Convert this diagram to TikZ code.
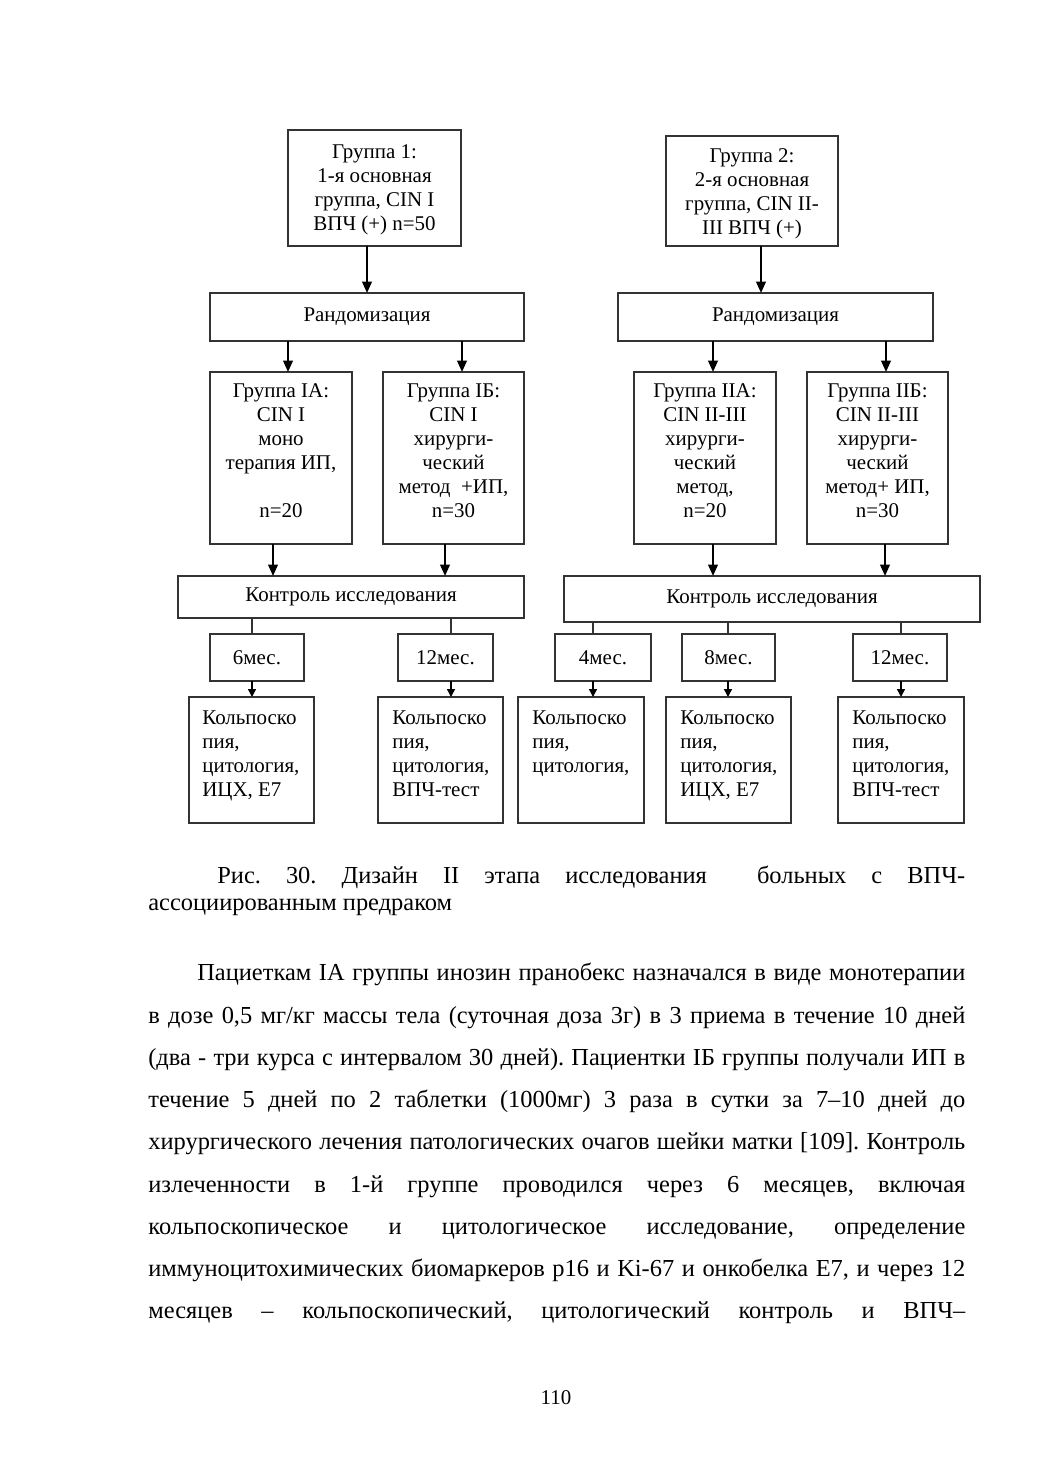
\documentclass[tikz,border=0pt]{standalone}
\usepackage{fontspec}
\setmainfont{Liberation Serif}
\usetikzlibrary{arrows.meta}
\frenchspacing
\newcommand\bxn[7]{\node[bx,#6, minimum width={(#4-#2)*0.57294pt}, minimum height={(#5-#3)*0.57294pt}] (#1) at ({(#2+#4)/2},{(#3+#5)/2}) {#7};}
\begin{document}
\begin{tikzpicture}[x=0.57294pt,y=-0.57294pt]
\tikzset{
 bx/.style={draw=black!80, line width=0.7pt, inner sep=0pt, outer sep=0pt, font=\fontsize{12}{13.75}\selectfont},
 bt/.style={font=\fontsize{12}{13.75}\selectfont, align=center, inner sep=0pt, anchor=north},
 lt/.style={font=\fontsize{12}{13.75}\selectfont, align=left, inner sep=0pt, anchor=north west},
 arr/.style={line width=1.1pt, -{Triangle[length=6.5pt,width=5.5pt]}},
 sarr/.style={line width=0.8pt, -{Triangle[length=4.5pt,width=4.5pt]}},
 ln/.style={line width=0.7pt, draw=black!80},
 bodyl/.style={font=\fontsize{14}{16}\selectfont, inner sep=0pt, anchor=base west},
}
\useasboundingbox[fill=white] (0,0) rectangle (1039,1471);

% top groups
\bxn{g1}{288}{130}{461}{246}{}{}
\bxn{g2}{666}{136}{838}{246}{}{}
\node[bt] (g1t) at (374.5,141) {\strut Группа 1:\\1-я основная\\группа, CIN I\\ВПЧ (+) n=50\strut};
\node[bt] (g2t) at (752,145) {\strut Группа 2:\\2-я основная\\группа, CIN II-\\III ВПЧ (+)\strut};

\bxn{r1}{210}{293}{524}{341}{}{Рандомизация}
\bxn{r2}{618}{293}{933}{341}{}{Рандомизация}

% subgroups
\bxn{ia}{210}{372}{352}{544}{}{}
\bxn{ib}{383}{372}{524}{544}{}{}
\bxn{iia}{634}{372}{776}{544}{}{}
\bxn{iib}{807}{372}{948}{544}{}{}
\node[bt] (iat) at (281,380) {\strut Группа IA:\\CIN I\\моно\\терапия ИП,\\\strut\\n=20};
\node[bt] (ibt) at (453.5,380) {\strut Группа IБ:\\CIN I\\хирурги-\\ческий\\метод\ \ +ИП,\\n=30};
\node[bt] (iiat) at (705,380) {\strut Группа IIA:\\CIN II-III\\хирурги-\\ческий\\метод,\\n=20};
\node[bt] (iibt) at (877.5,380) {\strut Группа IIБ:\\CIN II-III\\хирурги-\\ческий\\метод+ ИП,\\n=30};

% control
\bxn{k1}{178}{576}{524}{618}{}{Контроль исследования}
\bxn{k2}{564}{576}{980}{622}{}{Контроль исследования}

% months
\bxn{m6}{210}{634}{304}{681}{}{6мес.}
\bxn{m12a}{398}{634}{493}{681}{}{12мес.}
\bxn{m4}{555}{634}{651}{681}{}{4мес.}
\bxn{m8}{682}{634}{775}{681}{}{8мес.}
\bxn{m12b}{853}{634}{947}{681}{}{12мес.}

% results
\bxn{e1}{189}{697}{314}{823}{}{}
\bxn{e2}{378}{697}{503}{823}{}{}
\bxn{e3}{518}{697}{644}{823}{}{}
\bxn{e4}{666}{697}{791}{823}{}{}
\bxn{e5}{838}{697}{964}{823}{}{}
\node[lt] (e1t) at (202,707) {\strut Кольпоско\\пия,\\цитология,\\ИЦХ, E7};
\node[lt] (e2t) at (392,707) {\strut Кольпоско\\пия,\\цитология,\\ВПЧ-тест};
\node[lt] (e3t) at (532,707) {\strut Кольпоско\\пия,\\цитология,};
\node[lt] (e4t) at (680,707) {\strut Кольпоско\\пия,\\цитология,\\ИЦХ, E7};
\node[lt] (e5t) at (852,707) {\strut Кольпоско\\пия,\\цитология,\\ВПЧ-тест};

% x positions of connectors
\coordinate (xg2) at (761,0);
\coordinate (xa1) at (288,0);
\coordinate (xa2) at (462,0);
\coordinate (xa3) at (713,0);
\coordinate (xa4) at (886,0);
\coordinate (xb1) at (273,0);
\coordinate (xb2) at (445,0);
\coordinate (xb3) at (713,0);
\coordinate (xb4) at (885,0);
\coordinate (xc1) at (252,0);
\coordinate (xc2) at (451,0);
\coordinate (xc3) at (593,0);
\coordinate (xc4) at (728,0);
\coordinate (xc5) at (901,0);

\draw[arr] (g1.south -| r1.north) -- (r1.north);
\draw[arr] (g2.south -| xg2) -- (r2.north -| xg2);
\draw[arr] (r1.south -| xa1) -- (ia.north -| xa1);
\draw[arr] (r1.south -| xa2) -- (ib.north -| xa2);
\draw[arr] (r2.south -| xa3) -- (iia.north -| xa3);
\draw[arr] (r2.south -| xa4) -- (iib.north -| xa4);
\draw[arr] (ia.south -| xb1) -- (k1.north -| xb1);
\draw[arr] (ib.south -| xb2) -- (k1.north -| xb2);
\draw[arr] (iia.south -| xb3) -- (k2.north -| xb3);
\draw[arr] (iib.south -| xb4) -- (k2.north -| xb4);

\draw[ln] (k1.south -| xc1) -- (m6.north -| xc1);
\draw[ln] (k1.south -| xc2) -- (m12a.north -| xc2);
\draw[ln] (k2.south -| xc3) -- (m4.north -| xc3);
\draw[ln] (k2.south -| xc4) -- (m8.north -| xc4);
\draw[ln] (k2.south -| xc5) -- (m12b.north -| xc5);

\draw[sarr] (m6.south -| xc1) -- (e1.north -| xc1);
\draw[sarr] (m12a.south -| xc2) -- (e2.north -| xc2);
\draw[sarr] (m4.south -| xc3) -- (e3.north -| xc3);
\draw[sarr] (m8.south -| xc4) -- (e4.north -| xc4);
\draw[sarr] (m12b.south -| xc5) -- (e5.north -| xc5);

% caption
\node[bodyl] (c1) at (217,883) {\makebox[428.55pt][s]{Рис. 30. Дизайн II этапа исследования \ больных с ВПЧ-}};
\node[bodyl] (c2) at (148,910) {ассоциированным предраком};

% body text
\node[bodyl] (l1) at (197,980) {\makebox[440pt][s]{Пациеткам IA группы инозин пранобекс назначался в виде монотерапии}};
\node[bodyl] (l2) at (148,1023) {\makebox[468.1pt][s]{в дозе 0,5 мг/кг массы тела (суточная доза 3г) в 3 приема в течение 10 дней}};
\node[bodyl] (l3) at (148,1065) {\makebox[468.1pt][s]{(два - три курса с интервалом 30 дней). Пациентки IБ группы получали ИП в}};
\node[bodyl] (l4) at (148,1107) {\makebox[468.1pt][s]{течение 5 дней по 2 таблетки (1000мг) 3 раза в сутки за 7–10 дней до}};
\node[bodyl] (l5) at (148,1149) {\makebox[468.1pt][s]{хирургического лечения патологических очагов шейки матки [109]. Контроль}};
\node[bodyl] (l6) at (148,1192) {\makebox[468.1pt][s]{излеченности в 1-й группе проводился через 6 месяцев, включая}};
\node[bodyl] (l7) at (148,1234) {\makebox[468.1pt][s]{кольпоскопическое и цитологическое исследование, определение}};
\node[bodyl] (l8) at (148,1276) {\makebox[468.1pt][s]{иммуноцитохимических биомаркеров p16 и Ki-67 и онкобелка E7, и через 12}};
\node[bodyl] (l9) at (148,1318) {\makebox[468.1pt][s]{месяцев – кольпоскопический, цитологический контроль и ВПЧ–}};

\node[font=\fontsize{12}{14}\selectfont, inner sep=0pt, anchor=base] (pg) at (556,1404) {110};
\end{tikzpicture}
\end{document}
